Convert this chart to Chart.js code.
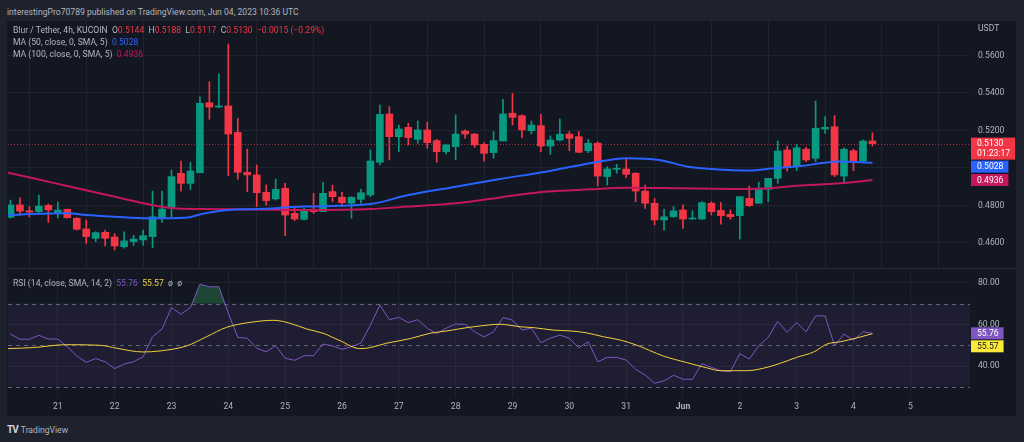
<!DOCTYPE html>
<html>
<head>
<meta charset="utf-8">
<script src="https://cdn.jsdelivr.net/npm/chart.js@4.4.0/dist/chart.umd.min.js"></script>
<style>
  body { margin: 0; background: #1e222d; width: 1024px; height: 442px; overflow: hidden; font-family: Roboto, "Open Sans", sans-serif; }
  #wrap { position: relative; width: 1024px; height: 442px; }
  #pub { position: absolute; left: 7px; top: 6px; font-size: 8.6px; line-height: 12px; color: #b2b5be; white-space: nowrap; }
  #panel { position: absolute; left: 7px; top: 21px; width: 1009px; height: 395px; background: #131722; }
  canvas { position: absolute; left: 0; }
  #priceCanvas { top: 21px; }
  #rsiCanvas { top: 269px; }
  #sep { position: absolute; left: 7px; top: 268px; width: 1009px; height: 1px; background: #2a2e39; }
  .legend { position: absolute; left: 13px; font-size: 8.6px; line-height: 12px; color: #b2b5be; white-space: nowrap; }
  .red { color: #f23645; }
  #foot { position: absolute; left: 7px; top: 424px; font-size: 8.6px; line-height: 12px; color: #b2b5be; white-space: nowrap; }
  #foot b { font-size: 10px; color: #d1d4dc; letter-spacing: -1px; margin-right: 3px; }
</style>
</head>
<body>
<div id="wrap">
  <div id="pub">interestingPro70789 published on TradingView.com, Jun 04, 2023 10:36 UTC</div>
  <div id="panel"></div>
  <div id="sep"></div>
  <canvas id="priceCanvas" width="1024" height="248"></canvas>
  <canvas id="rsiCanvas" width="1024" height="148"></canvas>
  <div class="legend" style="top:24px">Blur / Tether, 4h, KUCOIN&nbsp; O<span class="red">0.5144</span>&nbsp; H<span class="red">0.5188</span>&nbsp; L<span class="red">0.5117</span>&nbsp; C<span class="red">0.5130</span>&nbsp; <span class="red">−0.0015 (−0.29%)</span></div>
  <div class="legend" style="top:36px">MA (50, close, 0, SMA, 5)&nbsp; <span style="color:#2962ff">0.5028</span></div>
  <div class="legend" style="top:48px">MA (100, close, 0, SMA, 5)&nbsp; <span style="color:#c2185b">0.4936</span></div>
  <div class="legend" style="top:277px">RSI (14, close, SMA, 14, 2)&nbsp; <span style="color:#7e57c2">55.76</span>&nbsp; <span style="color:#f4d03f">55.57</span>&nbsp; ø&nbsp; ø</div>
  <div id="foot"><b>TV</b>TradingView</div>
</div>
<script>
// 4h candles, May 20 04:00 -> Jun 04 08:00
const opens  = [0.4737,0.4803,0.4772,0.4767,0.4801,0.4762,0.4780,0.4732,0.4675,0.4625,
                0.4657,0.4632,0.4580,0.4607,0.4616,0.4634,0.4733,0.4788,0.4972,0.4918,
                0.4975,0.5348,0.5325,0.5331,0.5190,0.4977,0.4963,0.4870,0.4835,0.4892,
                0.4758,0.4726,0.4780,0.4767,0.4874,0.4844,0.4812,0.4833,0.4856,0.5030,
                0.5288,0.5167,0.5217,0.5153,0.5203,0.5146,0.5087,0.5114,0.5197,0.5181,
                0.5126,0.5082,0.5144,0.5292,0.5279,0.5199,0.5226,0.5117,0.5149,0.5181,
                0.5167,0.5092,0.5132,0.4954,0.4993,0.4995,0.4972,0.4877,0.4812,0.4723,
                0.4740,0.4776,0.4728,0.4728,0.4812,0.4774,0.4753,0.4746,0.4838,0.4812,
                0.4886,0.4945,0.5096,0.5007,0.5100,0.5052,0.5208,0.5220,0.4957,0.5092,
                0.5037,0.5144];
const highs  = [0.4829,0.4841,0.4794,0.4856,0.4808,0.4819,0.4781,0.4736,0.4723,0.4660,
                0.4669,0.4650,0.4660,0.4641,0.4669,0.4877,0.4877,0.4989,0.5037,0.5030,
                0.5380,0.5460,0.5501,0.5661,0.5265,0.5101,0.5016,0.4909,0.4941,0.4918,
                0.4788,0.4786,0.4865,0.4924,0.4909,0.4870,0.4847,0.4886,0.5096,0.5336,
                0.5327,0.5229,0.5238,0.5251,0.5244,0.5153,0.5126,0.5283,0.5203,0.5185,
                0.5135,0.5194,0.5366,0.5398,0.5283,0.5251,0.5286,0.5171,0.5261,0.5194,
                0.5194,0.5153,0.5140,0.5007,0.5020,0.5046,0.4975,0.4909,0.4838,0.4781,
                0.4794,0.4803,0.4772,0.4821,0.4820,0.4815,0.4776,0.4847,0.4904,0.4924,
                0.4945,0.5144,0.5117,0.5126,0.5110,0.5357,0.5274,0.5279,0.5108,0.5100,
                0.5149,0.5188];
const lows   = [0.4733,0.4747,0.4739,0.4758,0.4710,0.4733,0.4733,0.4669,0.4598,0.4607,
                0.4584,0.4563,0.4572,0.4587,0.4589,0.4575,0.4710,0.4740,0.4877,0.4886,
                0.4975,0.5260,0.5322,0.4960,0.4940,0.4874,0.4795,0.4803,0.4829,0.4639,
                0.4719,0.4723,0.4758,0.4767,0.4820,0.4794,0.4732,0.4812,0.4847,0.5016,
                0.5043,0.5087,0.5123,0.5132,0.5105,0.5030,0.5075,0.5043,0.5158,0.5110,
                0.5037,0.5052,0.5144,0.5229,0.5162,0.5181,0.5087,0.5073,0.5144,0.5092,
                0.5082,0.5082,0.4904,0.4909,0.4972,0.4948,0.4820,0.4785,0.4696,0.4669,
                0.4737,0.4678,0.4726,0.4726,0.4749,0.4700,0.4726,0.4621,0.4794,0.4812,
                0.4820,0.4918,0.4984,0.4986,0.5034,0.5034,0.5185,0.4954,0.4927,0.4986,
                0.5037,0.5117];
const closes = [0.4803,0.4770,0.4765,0.4797,0.4776,0.4776,0.4735,0.4673,0.4634,0.4655,
                0.4625,0.4584,0.4611,0.4621,0.4639,0.4740,0.4781,0.4954,0.4918,0.4984,
                0.5345,0.5325,0.5331,0.5181,0.4977,0.4963,0.4868,0.4826,0.4886,0.4749,
                0.4728,0.4771,0.4767,0.4865,0.4847,0.4815,0.4844,0.4868,0.5037,0.5286,
                0.5167,0.5208,0.5162,0.5203,0.5135,0.5087,0.5123,0.5181,0.5181,0.5123,
                0.5078,0.5146,0.5288,0.5270,0.5203,0.5229,0.5117,0.5149,0.5180,0.5158,
                0.5084,0.5132,0.4957,0.4995,0.4998,0.4966,0.4877,0.4812,0.4723,0.4740,
                0.4771,0.4728,0.4733,0.4815,0.4767,0.4746,0.4740,0.4847,0.4799,0.4892,
                0.4945,0.5091,0.5007,0.5108,0.5043,0.5212,0.5217,0.4963,0.5100,0.5037,
                0.5144,0.5130];

// moving averages, sampled along the drawn curves (candle position, price)
const ma50X  = [0.7,5,7,9,12,15.5,19.5,21.5,24,27,32,39,43,48,52.5,57.5,62.5,66,69.5,72.5,75,79,81.5,84.5,87,88.5,92];
const ma50Y  = [0.4749,0.4757,0.4758,0.4749,0.4740,0.4732,0.4735,0.4758,0.4776,0.4781,0.4794,0.4808,0.4856,0.4900,0.4940,0.4980,0.5028,0.5052,0.5043,0.5007,0.4995,0.4986,0.4998,0.5011,0.5028,0.5034,0.5028];
const ma100X = [0.7,3.4,7,11.2,15.4,18.2,21,27,32,39,43,48,52.7,57.7,62.2,66,71.7,78,81.2,83.6,88.6,92];
const ma100Y = [0.4975,0.4945,0.4904,0.4856,0.4808,0.4785,0.4781,0.4779,0.4776,0.4781,0.4794,0.4812,0.4843,0.4874,0.4886,0.4895,0.4892,0.4888,0.4892,0.4904,0.4918,0.4936];

// RSI (one value per candle) and its moving average
const rsiValues = [55.4,52.9,52.9,54.8,53.0,53.0,49.3,44.9,41.8,43.6,
                   42.1,38.8,41.0,42.1,44.5,54.1,57.8,68.1,64.9,68.1,
                   79.3,78.1,78.1,65.4,53.8,53.4,48.6,46.9,49.8,43.8,
                   42.8,45.0,45.0,50.6,49.7,48.1,49.3,51.1,59.7,69.3,
                   62.3,63.4,60.9,62.3,58.2,55.6,58.2,60.2,60.1,56.5,
                   54.0,56.5,63.3,62.1,57.3,58.2,51.2,53.4,54.9,53.4,
                   48.8,51.7,42.1,44.2,44.2,42.9,38.5,35.7,31.8,32.9,
                   35.6,33.7,33.7,41.2,39.4,37.8,37.3,46.0,43.4,49.8,
                   53.8,61.5,56.2,60.9,56.5,64.1,64.1,49.8,55.4,52.4,
                   56.5,55.76];
const rsiMaX = [0.7,3.4,6.9,10.5,12.2,15,16.8,19.6,21.7,23.8,26.3,28.8,30.5,32.3,34,35.8,37.9,39,40.7,43.2,45.3,47.1,49.2,50.6,52.7,54.8,56.2,58.3,60.1,61.8,63.6,65.4,67.1,69.9,72.4,74.5,75.9,78.7,80.5,82.3,84,85.8,87.2,88.6,90.4,92];
const rsiMaY = [48.4,48.9,50.3,50.0,48.6,46.8,47.3,49.7,54.1,58.6,61.0,62.0,60.6,57.8,55.8,52.2,48.4,48.9,51.0,53.2,55.8,56.9,58.5,59.3,60.1,58.9,58.5,57.3,56.9,56.0,54.1,52.5,50.1,44.9,41.7,39.2,37.8,37.8,39.0,41.4,44.2,46.8,50.6,51.7,53.6,55.57];

// axes
const dayLabels = ['21','22','23','24','25','26','27','28','29','30','31','Jun','2','3','4','5'];
const dayTicks  = [6,12,18,24,30,36,42,48,54,60,66,72,78,84,90,96];
const priceTicks  = [0.46,0.48,0.50,0.52,0.54,0.56];
const priceLabels = ['0.4600','0.4800','','0.5200','0.5400','0.5600'];
const rsiTicks  = [40,60,80];
const rsiLabels = ['40.00','60.00','80.00'];
const rsiLevels = [70,50,30];
const countdown = '01:23:17';

const UP = '#089981', DOWN = '#f23645';
const BLUE = '#2962ff', CRIMSON = '#c2185b', PURPLE = '#7e57c2', YELLOW = '#f4d03f';
const GRID = 'rgba(54,58,69,0.35)';
const X_MIN = 0.74, X_MAX = 102.3;
const FONT = 'Roboto, "Open Sans", sans-serif';
const FS = 8.6;

Chart.defaults.font.family = FONT;
Chart.defaults.font.size = FS;
Chart.defaults.color = '#b2b5be';

const pts = (xs, ys) => xs.map((x, k) => ({ x: x, y: ys[k] }));

// scales keep the full canvas height: no extra label padding
function noPad(axis) {
  axis.paddingTop = 0; axis.paddingBottom = 0;
  axis.paddingLeft = 0; axis.paddingRight = 0;
}

// boxes stacked on the right axis, never overlapping
function drawAxisLabels(chart, items) {
  const ctx = chart.ctx;
  const yScale = chart.scales.y;
  const left = chart.chartArea.right + 1;
  let prevBottom = -Infinity;
  ctx.save();
  ctx.font = FS + 'px ' + FONT;
  ctx.textBaseline = 'middle';
  items.forEach(it => {
    const h = it.sub ? 22 : 12;
    const w = Math.max(ctx.measureText(it.text).width, it.sub ? ctx.measureText(it.sub).width : 0) + 11;
    const yv = yScale.getPixelForValue(it.value);
    const top = Math.max(yv - 6, prevBottom + 1);
    ctx.fillStyle = it.bg;
    ctx.fillRect(left, top, w, h);
    ctx.fillStyle = it.fg;
    ctx.fillText(it.text, left + 6, top + 6.5);
    if (it.sub) ctx.fillText(it.sub, left + 6, top + 16);
    prevBottom = top + h;
  });
  ctx.restore();
}

const dayAxis = (showLabels) => ({
  type: 'linear', min: X_MIN, max: X_MAX, offset: false,
  border: { display: false },
  grid: { color: GRID, drawTicks: false },
  afterBuildTicks: axis => { axis.ticks = dayTicks.map(v => ({ value: v })); },
  afterFit: axis => { axis.height = showLabels ? 20 : 0; noPad(axis); },
  ticks: {
    display: showLabels, padding: 5, maxRotation: 0, autoSkip: false,
    callback: (v, i) => dayLabels[i],
    font: c => ({ size: FS, family: FONT, weight: (c.tick && c.tick.label === 'Jun') ? 'bold' : 'normal' })
  }
});

const pricePlugin = {
  id: 'priceExtras',
  beforeDatasetsDraw(chart) {
    const ctx = chart.ctx, a = chart.chartArea;
    const y = chart.scales.y.getPixelForValue(closes[closes.length - 1]);
    ctx.save();
    ctx.strokeStyle = 'rgba(242,54,69,0.7)';
    ctx.lineWidth = 1;
    ctx.setLineDash([1, 2]);
    ctx.beginPath();
    ctx.moveTo(a.left, Math.round(y) + 0.5);
    ctx.lineTo(a.right, Math.round(y) + 0.5);
    ctx.stroke();
    ctx.restore();
  },
  afterDraw(chart) {
    const ctx = chart.ctx;
    ctx.save();
    ctx.fillStyle = '#b2b5be';
    ctx.font = FS + 'px ' + FONT;
    ctx.textBaseline = 'middle';
    ctx.fillText('USDT', chart.chartArea.right + 8, 8);
    ctx.restore();
    drawAxisLabels(chart, [
      { value: closes[closes.length - 1], text: closes[closes.length - 1].toFixed(4), sub: countdown, bg: DOWN, fg: '#ffffff' },
      { value: ma50Y[ma50Y.length - 1], text: ma50Y[ma50Y.length - 1].toFixed(4), bg: BLUE, fg: '#ffffff' },
      { value: ma100Y[ma100Y.length - 1], text: ma100Y[ma100Y.length - 1].toFixed(4), bg: CRIMSON, fg: '#ffffff' }
    ]);
  }
};

new Chart(document.getElementById('priceCanvas'), {
  type: 'bar',
  data: {
    datasets: [
      { type: 'line', label: 'MA 50', data: pts(ma50X, ma50Y), borderColor: BLUE, borderWidth: 2,
        pointRadius: 0, cubicInterpolationMode: 'monotone', fill: false, order: 1 },
      { type: 'line', label: 'MA 100', data: pts(ma100X, ma100Y), borderColor: CRIMSON, borderWidth: 2,
        pointRadius: 0, cubicInterpolationMode: 'monotone', fill: false, order: 1 },
      { label: 'body', data: opens.map((o, k) => ({ x: k + 1, y: [o, closes[k]] })),
        backgroundColor: opens.map((o, k) => closes[k] >= o ? UP : DOWN),
        barThickness: 7, grouped: false, minBarLength: 1, order: 2 },
      { label: 'wick', data: lows.map((l, k) => ({ x: k + 1, y: [l, highs[k]] })),
        backgroundColor: opens.map((o, k) => closes[k] >= o ? UP : DOWN),
        barThickness: 1, grouped: false, order: 3 }
    ]
  },
  options: {
    responsive: false, animation: false, devicePixelRatio: 1,
    layout: { padding: { left: 8, top: 0, right: 0, bottom: 0 } },
    plugins: { legend: { display: false }, tooltip: { enabled: false } },
    scales: {
      x: dayAxis(false),
      y: {
        position: 'right', min: 0.44613, max: 0.5784,
        border: { display: false },
        grid: { color: GRID, drawTicks: false },
        afterBuildTicks: axis => { axis.ticks = priceTicks.map(v => ({ value: v })); },
        afterFit: axis => { axis.width = 54; noPad(axis); },
        ticks: { padding: 8, callback: (v, i) => priceLabels[i] }
      }
    }
  },
  plugins: [pricePlugin]
});

const rsiPlugin = {
  id: 'rsiExtras',
  beforeDatasetsDraw(chart) {
    const ctx = chart.ctx, a = chart.chartArea, ys = chart.scales.y;
    const top = ys.getPixelForValue(rsiLevels[0]), bot = ys.getPixelForValue(rsiLevels[2]);
    ctx.save();
    ctx.fillStyle = 'rgba(126,87,194,0.1)';
    ctx.fillRect(a.left, top, a.right - a.left, bot - top);
    ctx.strokeStyle = 'rgba(120,123,134,0.75)';
    ctx.lineWidth = 1;
    ctx.setLineDash([4, 4]);
    rsiLevels.forEach(v => {
      const y = Math.round(ys.getPixelForValue(v)) + 0.5;
      ctx.beginPath();
      ctx.moveTo(a.left, y);
      ctx.lineTo(a.right, y);
      ctx.stroke();
    });
    ctx.restore();
  },
  afterDraw(chart) {
    drawAxisLabels(chart, [
      { value: rsiValues[rsiValues.length - 1], text: rsiValues[rsiValues.length - 1].toFixed(2), bg: PURPLE, fg: '#ffffff' },
      { value: rsiMaY[rsiMaY.length - 1], text: rsiMaY[rsiMaY.length - 1].toFixed(2), bg: '#fbe83a', fg: '#131722' }
    ]);
  }
};

new Chart(document.getElementById('rsiCanvas'), {
  type: 'line',
  data: {
    datasets: [
      { label: 'RSI', data: rsiValues.map((r, k) => ({ x: k + 1, y: r })), borderColor: PURPLE, borderWidth: 1,
        pointRadius: 0, tension: 0,
        fill: { target: { value: 70 }, above: 'rgba(46,160,90,0.35)', below: 'rgba(0,0,0,0)' }, order: 2 },
      { label: 'RSI MA', data: pts(rsiMaX, rsiMaY), borderColor: YELLOW, borderWidth: 1,
        pointRadius: 0, cubicInterpolationMode: 'monotone', fill: false, order: 1 }
    ]
  },
  options: {
    responsive: false, animation: false, devicePixelRatio: 1,
    layout: { padding: { left: 8, top: 1, right: 0, bottom: 0 } },
    plugins: { legend: { display: false }, tooltip: { enabled: false } },
    scales: {
      x: dayAxis(true),
      y: {
        position: 'right', min: 25.18, max: 86.15,
        border: { display: false },
        grid: { color: GRID, drawTicks: false },
        afterBuildTicks: axis => { axis.ticks = rsiTicks.map(v => ({ value: v })); },
        afterFit: axis => { axis.width = 54; noPad(axis); },
        ticks: { padding: 8, callback: (v, i) => rsiLabels[i] }
      }
    }
  },
  plugins: [rsiPlugin]
});
</script>
</body>
</html>
